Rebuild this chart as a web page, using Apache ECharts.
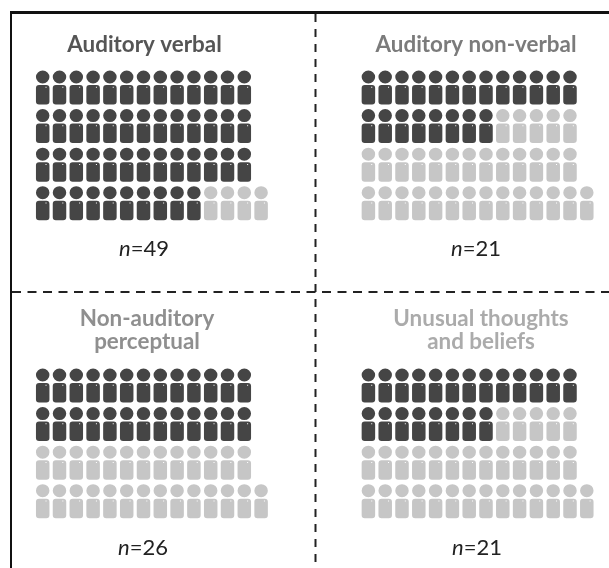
<!DOCTYPE html>
<html>
<head>
<meta charset="utf-8">
<style>html,body{margin:0;padding:0;background:#fff}#c{width:609px;height:568px}</style>
<script src="https://cdn.jsdelivr.net/npm/echarts@6/dist/echarts.min.js"></script>
</head>
<body>
<div id="c"></div>
<script>
const panelTitles = ['Auditory verbal', 'Auditory non-verbal', 'Non-auditory\nperceptual', 'Unusual thoughts\nand beliefs'];
const panelCounts = [49, 21, 26, 21];
const rowSizes = [13, 13, 13, 14];

const titleColors = ['#555555', '#7b7b7b', '#8f8f8f', '#ababab'];
const DARK = '#454545', LIGHT = '#c6c6c6';
const person = 'path://M65 0A65 65 0 1 1 64.9 0Z' +
  'M30 145H100A30 30 0 0 1 130 175V310A30 30 0 0 1 100 340H30A30 30 0 0 1 0 310V175A30 30 0 0 1 30 145Z' +
  'M92 163V173H102V163Z';

const layout = [
  {left: 42.7, top: 87.5, tx: 144.5, ty: 44.5, ny: 249, nx: 144},
  {left: 368.4, top: 87.5, tx: 476, ty: 44.5, ny: 249, nx: 476},
  {left: 42.7, top: 385.5, tx: 147, ty: 330, ny: 548, nx: 143},
  {left: 368.4, top: 385.5, tx: 481, ty: 330, ny: 548, nx: 477}
];

const grid = [], xAxis = [], yAxis = [], series = [], title = [];
panelTitles.forEach((name, p) => {
  const L = layout[p];
  grid.push({left: L.left, top: L.top, width: 218.4, height: 115.7});
  xAxis.push({gridIndex: p, type: 'value', min: 0, max: 13, show: false});
  yAxis.push({gridIndex: p, type: 'value', min: 0, max: 3, inverse: true, show: false});
  const pts = [];
  let k = 0;
  rowSizes.forEach((size, r) => {
    for (let c = 0; c < size; c++) {
      pts.push({value: [c, r], itemStyle: {color: k < panelCounts[p] ? DARK : LIGHT, opacity: 1}});
      k++;
    }
  });
  series.push({
    type: 'scatter', xAxisIndex: p, yAxisIndex: p, data: pts,
    symbol: person, symbolSize: [13.5, 34], silent: true, animation: false, clip: false
  });
  title.push({
    text: name, left: L.tx, top: L.ty, padding: 0, textAlign: 'center', textVerticalAlign: 'middle',
    textStyle: {fontFamily: 'Lato', fontWeight: 'bold', fontSize: 22.4, lineHeight: 23, color: titleColors[p]}
  });
  title.push({
    text: '{i|n}{t|=' + panelCounts[p] + '}', left: L.nx, top: L.ny, padding: 0, textAlign: 'center', textVerticalAlign: 'middle',
    textStyle: {
      fontWeight: 'normal',
      rich: {
        i: {fontFamily: 'Lato', fontStyle: 'italic', fontWeight: 'normal', fontSize: 22, color: '#222'},
        t: {fontFamily: 'Lato', fontWeight: 'normal', fontSize: 22, color: '#222'}
      }
    }
  });
});

const chart = echarts.init(document.getElementById('c'), null, {renderer: 'canvas'});
chart.setOption({
  backgroundColor: '#fff',
  animation: false,
  title, grid, xAxis, yAxis, series,
  graphic: [
    {type: 'line', shape: {x1: 10, y1: 12.5, x2: 609, y2: 12.5}, style: {stroke: '#111', lineWidth: 3}, silent: true},
    {type: 'line', shape: {x1: 11, y1: 12, x2: 11, y2: 568}, style: {stroke: '#111', lineWidth: 2}, silent: true},
    {type: 'line', shape: {x1: 315.5, y1: 14, x2: 315.5, y2: 568}, style: {stroke: '#222', lineWidth: 2, lineDash: [8, 7]}, silent: true},
    {type: 'line', shape: {x1: 12, y1: 292, x2: 609, y2: 292}, style: {stroke: '#222', lineWidth: 2, lineDash: [9, 6.5]}, silent: true}
  ]
});
</script>
</body>
</html>
